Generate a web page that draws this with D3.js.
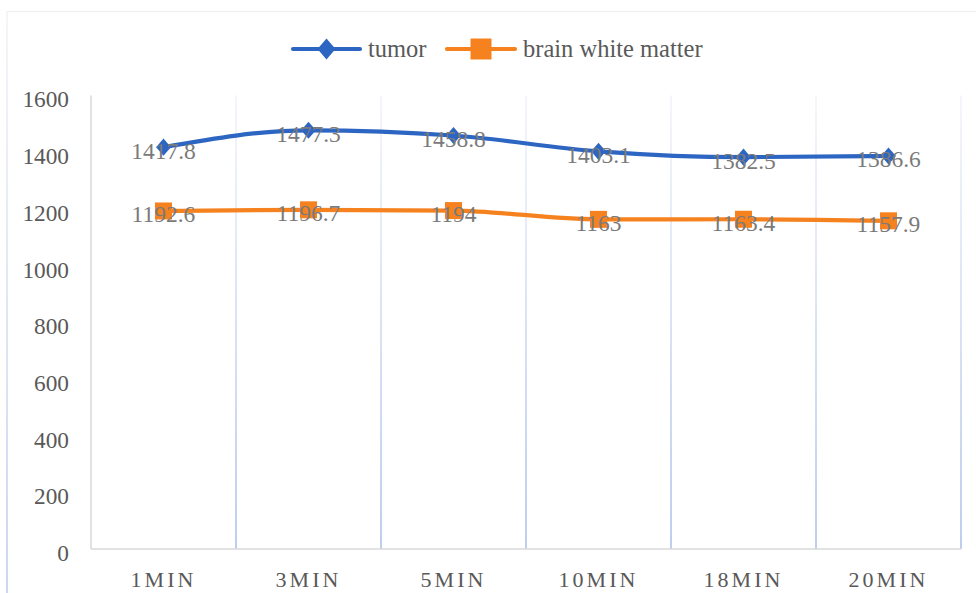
<!DOCTYPE html>
<html>
<head>
<meta charset="utf-8">
<script src="https://cdn.jsdelivr.net/npm/d3@7"></script>
<style>
  html, body { margin: 0; padding: 0; background: #fff; }
  svg { display: block; }
  text { font-family: "Liberation Serif", "DejaVu Serif", serif; }
</style>
</head>
<body>
<svg id="chart" width="976" height="593"></svg>
<script>
// ---- data ----
const categories = ["1MIN", "3MIN", "5MIN", "10MIN", "18MIN", "20MIN"];
const tumor = [1417.8, 1477.3, 1458.8, 1403.1, 1382.5, 1386.6];
const brainWhiteMatter = [1192.6, 1196.7, 1194, 1163, 1163.4, 1157.9];
const seriesNames = ["tumor", "brain white matter"];
const yTicks = [0, 200, 400, 600, 800, 1000, 1200, 1400, 1600];

const series = [
  { name: seriesNames[0], values: tumor, color: "#2d66c2", marker: "diamond" },
  { name: seriesNames[1], values: brainWhiteMatter, color: "#f6821f", marker: "square" }
];

const FONT = "'Liberation Serif', 'DejaVu Serif', serif";
const svg = d3.select("#chart");
const W = 976, H = 593;
const plot = { left: 91, right: 961, top: 95.5, bottom: 549 };

// defs: gradients
const defs = svg.append("defs");
const g1 = defs.append("linearGradient").attr("id", "gridGrad")
  .attr("gradientUnits", "userSpaceOnUse")
  .attr("x1", 0).attr("y1", plot.top).attr("x2", 0).attr("y2", plot.bottom);
g1.append("stop").attr("offset", "0%").attr("stop-color", "#f1f3fa");
g1.append("stop").attr("offset", "100%").attr("stop-color", "#a9bde8");

const g2 = defs.append("linearGradient").attr("id", "borderGrad")
  .attr("gradientUnits", "userSpaceOnUse")
  .attr("x1", 0).attr("y1", 11).attr("x2", 0).attr("y2", H);
g2.append("stop").attr("offset", "0%").attr("stop-color", "#eeeff3");
g2.append("stop").attr("offset", "100%").attr("stop-color", "#a9bde8");

// chart frame
svg.append("rect")
  .attr("x", 7).attr("y", 11.5).attr("width", 970).attr("height", 600)
  .attr("fill", "none").attr("stroke", "url(#borderGrad)").attr("stroke-width", 1.2);

// scales
const x = d3.scaleBand().domain(categories).range([plot.left, plot.right]).padding(0);
const y = d3.scaleLinear().domain([0, 1600]).range([plot.bottom, plot.top]);
const cx = c => x(c) + x.bandwidth() / 2;

// vertical gridlines at category boundaries
svg.append("g").selectAll("line")
  .data(categories)
  .join("line")
  .attr("x1", d => x(d) + x.bandwidth()).attr("x2", d => x(d) + x.bandwidth())
  .attr("y1", plot.top).attr("y2", plot.bottom)
  .attr("stroke", "url(#gridGrad)").attr("stroke-width", 1.5);

// y axis
const yAxis = svg.append("g")
  .attr("transform", `translate(${plot.left},0)`)
  .call(d3.axisLeft(y).tickValues(yTicks).tickSize(0).tickPadding(22).tickFormat(d3.format("d")));
yAxis.attr("font-family", FONT);
yAxis.select(".domain").remove();
yAxis.selectAll("text")
  .style("font-family", FONT)
  .attr("font-size", 23.3).attr("fill", "#595959").attr("y", 4);

// axis lines
svg.append("line")
  .attr("x1", plot.left).attr("x2", plot.left)
  .attr("y1", plot.top).attr("y2", plot.bottom)
  .attr("stroke", "#d9d9d9").attr("stroke-width", 1.5);
svg.append("line")
  .attr("x1", plot.left).attr("x2", plot.right)
  .attr("y1", plot.bottom).attr("y2", plot.bottom)
  .attr("stroke", "#d9d9d9").attr("stroke-width", 1.5);

// x axis labels
const xAxis = svg.append("g")
  .attr("transform", `translate(0,${plot.bottom})`)
  .call(d3.axisBottom(x).tickSize(0).tickPadding(0));
xAxis.attr("font-family", FONT);
xAxis.select(".domain").remove();
xAxis.selectAll("text")
  .style("font-family", FONT)
  .attr("font-size", 22).attr("fill", "#595959")
  .attr("letter-spacing", 3)
  .attr("dy", 0).attr("y", 38).attr("dx", 0);

// lines
const line = d3.line()
  .x((d, i) => cx(categories[i]))
  .y(d => y(d))
  .curve(d3.curveMonotoneX);

function markerPath(type, s) {
  if (type === "diamond") {
    const w = s * 0.45, h = s * 0.52;
    return `M0,${-h}L${w},0L0,${h}L${-w},0Z`;
  }
  const h = s / 2;
  return `M${-h},${-h}H${h}V${h}H${-h}Z`;
}

series.forEach(s => {
  svg.append("path")
    .datum(s.values)
    .attr("d", line)
    .attr("fill", "none")
    .attr("stroke", s.color)
    .attr("stroke-width", 4.2)
    .attr("stroke-linejoin", "round")
    .attr("stroke-linecap", "round");
});

series.forEach(s => {
  svg.append("g").selectAll("path")
    .data(s.values)
    .join("path")
    .attr("transform", (d, i) => `translate(${cx(categories[i])},${y(d)})`)
    .attr("d", markerPath(s.marker, s.marker === "diamond" ? 16.5 : 17))
    .attr("fill", s.color);
});

// data labels
series.forEach(s => {
  svg.append("g").selectAll("text")
    .data(s.values)
    .join("text")
    .attr("x", (d, i) => cx(categories[i]))
    .attr("y", d => y(d) + 11.5)
    .attr("text-anchor", "middle")
    .style("font-family", FONT)
    .attr("font-size", 23.5)
    .attr("fill", "#7a7a7a")
    .text(d => d);
});

// legend
const legendItems = [
  { s: series[0], lx1: 293, lx2: 360, tx: 368, size: 20 },
  { s: series[1], lx1: 447, lx2: 515, tx: 523, size: 21 }
];
const ly = 49;
legendItems.forEach(it => {
  const g = svg.append("g");
  g.append("line")
    .attr("x1", it.lx1).attr("x2", it.lx2).attr("y1", ly).attr("y2", ly)
    .attr("stroke", it.s.color).attr("stroke-width", 4.2).attr("stroke-linecap", "round");
  g.append("path")
    .attr("transform", `translate(${(it.lx1 + it.lx2) / 2},${ly})`)
    .attr("d", markerPath(it.s.marker, it.size))
    .attr("fill", it.s.color);
  g.append("text")
    .attr("x", it.tx).attr("y", ly + 8)
    .style("font-family", FONT)
    .attr("font-size", 24.5).attr("fill", "#595959")
    .text(it.s.name);
});
</script>
</body>
</html>
